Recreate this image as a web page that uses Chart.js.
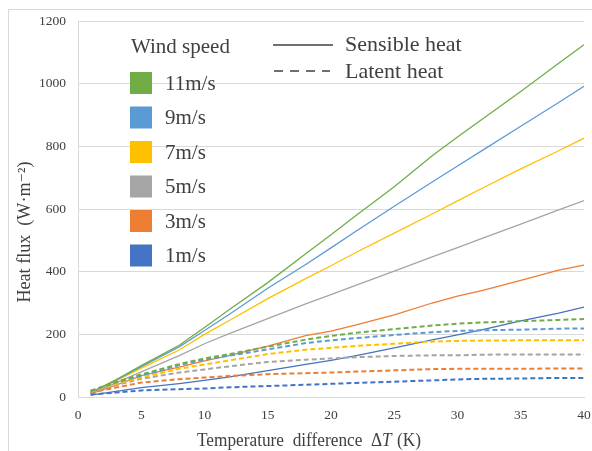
<!DOCTYPE html>
<html>
<head>
<meta charset="utf-8">
<script src="https://cdn.jsdelivr.net/npm/chart.js@4/dist/chart.umd.min.js"></script>
<style>
  html, body { margin: 0; padding: 0; background: #fff; }
  #wrap { position: relative; width: 592px; height: 451px; }
</style>
</head>
<body>
<div id="wrap"><canvas id="chart" width="592" height="451"></canvas></div>
<script>
// temperature difference ΔT (K)
const deltaT = [1, 3, 5, 8, 10, 12, 15, 18, 20, 22, 25, 28, 30, 32, 35, 38, 40];

// sensible heat (W·m-2)
const sens11 = [14, 55, 100, 165, 222, 280, 365, 457, 518, 580, 671, 770, 830, 888, 975, 1065, 1124];
const sens9  = [13, 54, 97, 160, 212, 265, 347, 423, 476, 530, 609, 686, 737, 788, 864, 940, 992];
const sens7  = [12, 52, 92, 150, 200, 245, 314, 378, 419, 462, 523, 584, 626, 667, 728, 786, 826];
const sens5  = [11, 45, 80, 132, 170, 203, 250, 297, 327, 357, 402, 447, 477, 507, 552, 597, 627];
const sens3  = [10, 38, 68, 95, 115, 133, 162, 196, 210, 230, 262, 300, 322, 340, 372, 405, 421];
const sens1  = [6, 18, 30, 43, 53, 64, 84, 104, 117, 132, 157, 182, 198, 215, 243, 268, 287];

// latent heat (W·m-2)
const lat11 = [20, 48, 72, 105, 123, 137, 161, 183, 195, 205, 217, 228, 234, 238, 242, 246, 249];
const lat9  = [19, 46, 68, 102, 119, 132, 152, 172, 181, 188, 198, 207, 211, 213, 215, 218, 219];
const lat7  = [18, 42, 62, 90, 104, 117, 137, 151, 157, 163, 170, 177, 179, 180, 181, 181, 181];
const lat5  = [16, 38, 58, 78, 88, 98, 112, 119, 123, 127, 131, 133, 133, 135, 136, 136, 136];
const lat3  = [14, 30, 46, 57, 62, 67, 73, 76, 78, 81, 85, 89, 90, 90, 90, 91, 91];
const lat1  = [8, 14, 21, 25, 27, 31, 35, 39, 42, 45, 49, 53, 56, 58, 59, 61, 61];

const windLabels = ['11m/s', '9m/s', '7m/s', '5m/s', '3m/s', '1m/s'];
const windColors = ['#70AD47', '#5B9BD5', '#FFC000', '#A5A5A5', '#ED7D31', '#4472C4'];
const sensSeries = [sens11, sens9, sens7, sens5, sens3, sens1];
const latSeries = [lat11, lat9, lat7, lat5, lat3, lat1];

const yTicks = [0, 200, 400, 600, 800, 1000, 1200];
const xTicks = [0, 5, 10, 15, 20, 25, 30, 35, 40];

const serif = '"Liberation Serif", "DejaVu Serif", serif';
const textColor = '#404040';

function toPoints(arr) {
    return deltaT.map(function (x, i) { return { x: x, y: arr[i] }; });
}

const datasets = [];
latSeries.forEach(function (arr, i) {
    datasets.push({
        label: windLabels[i] + ' latent',
        data: toPoints(arr),
        borderColor: windColors[i],
        borderWidth: 2,
        borderDash: [5, 3],
        pointRadius: 0,
        tension: 0,
        fill: false
    });
});
sensSeries.forEach(function (arr, i) {
    datasets.push({
        label: windLabels[i] + ' sensible',
        data: toPoints(arr),
        borderColor: windColors[i],
        borderWidth: 1.3,
        pointRadius: 0,
        tension: 0,
        fill: false
    });
});

// legend, axis titles and frame drawn by hand, like the Excel original
const decorations = {
    id: 'decorations',
    afterDraw: function (chart) {
        const ctx = chart.ctx;
        ctx.save();

        // outer frame
        ctx.strokeStyle = '#D9D9D9';
        ctx.lineWidth = 1;
        ctx.strokeRect(8.5, 9.5, 700, 600);

        ctx.fillStyle = textColor;
        ctx.textBaseline = 'middle';
        ctx.textAlign = 'left';

        // wind speed legend
        ctx.font = '21px ' + serif;
        ctx.fillText('Wind speed', 131, 47);
        windLabels.forEach(function (lab, i) {
            const cy = 83 + i * 34.5;
            ctx.fillStyle = windColors[i];
            ctx.fillRect(130, cy - 11, 22, 22);
            ctx.fillStyle = textColor;
            ctx.fillText(lab, 165, cy + 1);
        });

        // line style legend
        ctx.font = '22px ' + serif;
        ctx.fillText('Sensible heat', 345, 45);
        ctx.fillText('Latent heat', 345, 72);
        ctx.strokeStyle = '#404040';
        ctx.lineWidth = 1.6;
        ctx.beginPath();
        ctx.moveTo(273, 45);
        ctx.lineTo(333, 45);
        ctx.stroke();
        ctx.setLineDash([9, 7]);
        ctx.beginPath();
        ctx.moveTo(274, 71);
        ctx.lineTo(330, 71);
        ctx.stroke();
        ctx.setLineDash([]);

        // y axis title
        ctx.save();
        ctx.translate(25, 232);
        ctx.rotate(-Math.PI / 2);
        ctx.textAlign = 'center';
        ctx.font = '18px ' + serif;
        const yTitle = 'Heat flux  (W·m\u207B\u00B2)';
        const yw = ctx.measureText(yTitle).width;
        ctx.scale(141 / yw, 1);
        ctx.fillText(yTitle, 0, 0);
        ctx.restore();

        // x axis title with italic T
        ctx.save();
        ctx.textBaseline = 'alphabetic';
        const partA = 'Temperature  difference  \u0394';
        const partB = 'T';
        const partC = ' (K)';
        ctx.font = '18px ' + serif;
        const wa = ctx.measureText(partA).width;
        const wc = ctx.measureText(partC).width;
        ctx.font = 'italic 18px ' + serif;
        const wb = ctx.measureText(partB).width;
        const total = wa + wb + wc;
        ctx.translate(197, 446);
        ctx.scale(223 / total, 1);
        ctx.font = '18px ' + serif;
        ctx.fillText(partA, 0, 0);
        ctx.font = 'italic 18px ' + serif;
        ctx.fillText(partB, wa, 0);
        ctx.font = '18px ' + serif;
        ctx.fillText(partC, wa + wb + 1, 0);
        ctx.restore();

        ctx.restore();
    }
};

new Chart(document.getElementById('chart').getContext('2d'), {
    type: 'line',
    data: { datasets: datasets },
    plugins: [decorations],
    options: {
        responsive: false,
        animation: false,
        layout: { padding: { left: 0, top: 21, right: 8, bottom: 0 } },
        plugins: {
            legend: { display: false },
            tooltip: { enabled: false }
        },
        scales: {
            x: {
                type: 'linear',
                min: 0,
                max: 40,
                afterBuildTicks: function (scale) {
                    scale.ticks = xTicks.map(function (v) { return { value: v }; });
                },
                afterFit: function (scale) {
                    scale.height = 54;
                    scale.paddingLeft = 0;
                    scale.paddingRight = 0;
                },
                grid: { display: false, drawTicks: false },
                border: { display: true, color: '#D9D9D9', width: 1 },
                ticks: {
                    padding: 10,
                    color: '#404040',
                    font: { family: serif, size: 13.5 },
                    callback: function (value) { return String(value); }
                }
            },
            y: {
                min: 0,
                max: 1200,
                afterBuildTicks: function (scale) {
                    scale.ticks = yTicks.map(function (v) { return { value: v }; });
                },
                afterFit: function (scale) { scale.width = 78; },
                grid: { color: '#D9D9D9', lineWidth: 1, drawTicks: false },
                border: { display: true, color: '#D9D9D9', width: 1 },
                ticks: {
                    padding: 12,
                    color: '#404040',
                    font: { family: serif, size: 13.5 },
                    callback: function (value) { return String(value); }
                }
            }
        }
    }
});
</script>
</body>
</html>
